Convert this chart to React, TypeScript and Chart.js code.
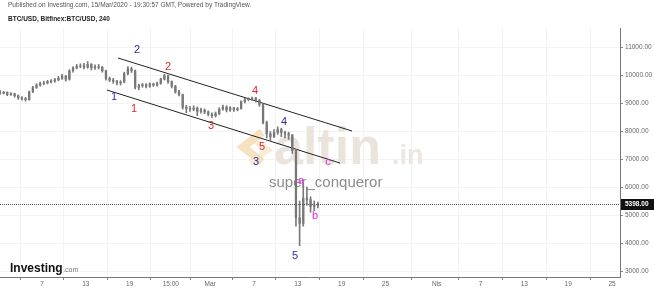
import React, { useEffect, useRef } from "react";
import { Chart, registerables } from "chart.js";
Chart.register(...registerables);

// 12h candles, Feb 1 2020 00:00 UTC -> Mar 15 2020 12:00 (x = days since Feb 1)
const firstOpen = 9400;
const closes = [
  9350, 9380, 9300, 9330, 9260, 9190, 9160, 9120, 9400, 9560,
  9640, 9700, 9720, 9760, 9790, 9830, 9880, 9950, 9850, 10150,
  10250, 10310, 10330, 10280, 10380, 10260, 10300, 10270, 10150, 9880,
  9820, 9780, 9720, 9750, 10050, 10220, 10150, 9560, 9620, 9650,
  9600, 9680, 9640, 9700, 9850, 9980, 9760, 9600, 9400, 9300,
  8850, 8800, 8780, 8820, 8700, 8750, 8680, 8600,
  8550, 8620, 8780, 8850, 8750, 8820, 8760, 8800, 9050, 9120,
  9150, 9180, 9100, 8950, 8300, 7900, 7800, 7950, 8050, 7950,
  7900, 7850, 7300, 4900, 4700, 5600, 5550, 5300, 5350, 5398,
];
const highs = [
  9450, 9420, 9400, 9370, 9350, 9290, 9230, 9200, 9430, 9600,
  9690, 9750, 9780, 9810, 9840, 9880, 9950, 10020, 9990, 10190,
  10300, 10380, 10400, 10420, 10480, 10410, 10360, 10380, 10310, 10180,
  9930, 9880, 9810, 9800, 10100, 10300, 10280, 10180, 9680, 9700,
  9690, 9720, 9710, 9750, 9890, 10030, 10000, 9790, 9630, 9450,
  9320, 8920, 8880, 8900, 8860, 8820, 8790, 8720,
  8650, 8680, 8830, 8930, 8900, 8870, 8850, 8840, 9080, 9170,
  9190, 9210, 9200, 9130, 8970, 8350, 7980, 8050, 8150, 8100,
  8000, 7960, 7880, 7350, 5500, 6100, 6000, 5650, 5500, 5460,
];
const lows = [
  9310, 9320, 9260, 9270, 9210, 9130, 9100, 9070, 9100, 9370,
  9520, 9600, 9650, 9680, 9720, 9740, 9790, 9840, 9780, 9820,
  10100, 10220, 10260, 10220, 10240, 10180, 10200, 10210, 10100, 9820,
  9760, 9700, 9650, 9640, 9720, 10000, 10090, 9500, 9480, 9560,
  9540, 9560, 9590, 9600, 9670, 9820, 9700, 9540, 9350, 9250,
  8780, 8650, 8700, 8720, 8550, 8640, 8620, 8540,
  8480, 8500, 8580, 8740, 8680, 8700, 8700, 8720, 8780, 9000,
  9080, 9100, 9030, 8880, 8250, 7750, 7650, 7760, 7880, 7800,
  7750, 7700, 7200, 4600, 3900, 4600, 5350, 5100, 5150, 5250,
];
const barLengthDays = 0.5;

const xTickDays = [6, 12, 18, 23.625, 29, 35, 41, 47, 53, 60, 66, 72, 78, 84];
const xTickLabels = ["7", "13", "19", "15:00", "Mar", "7", "13", "19", "25", "Nis", "7", "13", "19", "25"];
const yTicks = [3000, 4000, 5000, 6000, 7000, 8000, 9000, 10000, 11000];
const lastPrice = 5398;

const upperChannel = [
  { x: 16.4, y: 10607 },
  { x: 48.42, y: 8000 },
];
const lowerChannel = [
  { x: 14.89, y: 9464 },
  { x: 46.78, y: 6857 },
];

const BLUE = "#2b2ba8";
const RED = "#d8282c";
const MAG = "#e02ce0";
const waveLabels = [
  { t: "2", x: 19.0, y: 10893, c: BLUE },
  { t: "1", x: 15.85, y: 9214, c: BLUE },
  { t: "1", x: 18.59, y: 8786, c: RED },
  { t: "2", x: 23.24, y: 10286, c: RED },
  { t: "3", x: 29.13, y: 8179, c: RED },
  { t: "4", x: 35.15, y: 9429, c: RED },
  { t: "5", x: 36.1, y: 7429, c: RED },
  { t: "3", x: 35.28, y: 6893, c: BLUE },
  { t: "4", x: 39.11, y: 8321, c: BLUE },
  { t: "c", x: 45.14, y: 6893, c: MAG },
  { t: "a", x: 41.44, y: 6214, c: MAG },
  { t: "b", x: 43.36, y: 4964, c: MAG },
  { t: "5", x: 40.62, y: 3536, c: BLUE },
];

const FONT = '"Liberation Sans", Arial, sans-serif';

const overlay = {
  id: "overlay",
  beforeDatasetsDraw(chart: any) {
    const ctx = chart.ctx;
    ctx.save();
    // logo chevrons
    ctx.lineJoin = "miter";
    ctx.lineCap = "butt";
    ctx.strokeStyle = "rgba(240,206,150,0.6)";
    ctx.lineWidth = 8;
    ctx.beginPath();
    ctx.moveTo(262, 132);
    ctx.lineTo(243, 147);
    ctx.lineTo(262, 162);
    ctx.stroke();
    ctx.strokeStyle = "rgba(244,224,190,0.6)";
    ctx.lineWidth = 6;
    ctx.beginPath();
    ctx.moveTo(250, 137);
    ctx.lineTo(268, 150);
    ctx.lineTo(250, 163);
    ctx.stroke();
    // altin.in
    ctx.textBaseline = "alphabetic";
    ctx.textAlign = "left";
    ctx.fillStyle = "rgba(234,227,218,0.95)";
    ctx.font = `bold 52px ${FONT}`;
    ctx.fillText("altin", 274, 164);
    ctx.fillStyle = "rgba(234,229,223,0.95)";
    ctx.font = `bold 27px ${FONT}`;
    ctx.fillText(".in", 392, 164);
    ctx.fillStyle = "#8c8c8c";
    ctx.font = `15px ${FONT}`;
    ctx.fillText("super_conqueror", 269, 187);
    ctx.restore();
  },
  afterDraw(chart: any) {
    const ctx = chart.ctx;
    const xs = chart.scales.x;
    const ys = chart.scales.y;
    const area = chart.chartArea;
    ctx.save();
    // last price dotted line
    const py = Math.round(ys.getPixelForValue(lastPrice)) + 0.5;
    ctx.strokeStyle = "#555";
    ctx.lineWidth = 1;
    ctx.setLineDash([1, 1]);
    ctx.beginPath();
    ctx.moveTo(area.left, py);
    ctx.lineTo(area.right, py);
    ctx.stroke();
    ctx.setLineDash([]);
    ctx.fillStyle = "#111";
    ctx.fillRect(area.right + 1, py - 5.5, 33, 11);
    ctx.fillStyle = "#fff";
    ctx.font = `bold 6.5px ${FONT}`;
    ctx.textBaseline = "middle";
    ctx.textAlign = "left";
    ctx.fillText(lastPrice.toFixed(2), area.right + 5, py);

    // wave labels
    ctx.font = `11px ${FONT}`;
    ctx.textAlign = "center";
    ctx.textBaseline = "middle";
    for (const l of waveLabels) {
      ctx.fillStyle = l.c;
      ctx.fillText(l.t, xs.getPixelForValue(l.x), ys.getPixelForValue(l.y));
    }

    // header
    ctx.textAlign = "left";
    ctx.fillStyle = "#555";
    ctx.font = `6.5px ${FONT}`;
    ctx.fillText("Published on Investing.com, 15/Mar/2020 - 19:30:57 GMT, Powered by TradingView.", 8, 5);
    ctx.fillStyle = "#222";
    ctx.font = `bold 6.5px ${FONT}`;
    ctx.fillText("BTC/USD, Bitfinex:BTC/USD, 240", 8, 19);

    // Investing.com logo
    ctx.textBaseline = "alphabetic";
    ctx.fillStyle = "#111";
    ctx.font = `bold 12px ${FONT}`;
    ctx.fillText("Investing", 10, 272);
    const w = ctx.measureText("Investing").width;
    ctx.fillStyle = "#777";
    ctx.font = `7px ${FONT}`;
    ctx.fillText(".com", 10 + w + 0.5, 272);
    ctx.restore();
  },
};

export default function App() {
  const ref = useRef<HTMLCanvasElement | null>(null);
  useEffect(() => {
    document.body.style.margin = "0";
    const opens = closes.map((c, i) => (i === 0 ? firstOpen : closes[i - 1]));
    const xAt = (i: number) => i * barLengthDays + barLengthDays / 2;
    const wicks = closes.map((c, i) => ({ x: xAt(i), y: [lows[i], highs[i]] }));
    const bodies = closes.map((c, i) => ({
      x: xAt(i),
      y: [Math.min(opens[i], c), Math.max(opens[i], c) + (opens[i] === c ? 20 : 0)],
    }));
    const chart = new Chart(ref.current as HTMLCanvasElement, {
      type: "bar",
      data: {
        datasets: [
          {
            type: "bar",
            data: wicks as any,
            backgroundColor: "#7a7a7a",
            barThickness: 1,
            grouped: false,
            borderWidth: 0,
          } as any,
          {
            type: "bar",
            data: bodies as any,
            backgroundColor: "#6a6a6a",
            barThickness: 1.6,
            grouped: false,
            borderWidth: 0,
          } as any,
          {
            type: "line",
            data: upperChannel,
            borderColor: "#222",
            borderWidth: 1,
            pointRadius: 0,
          } as any,
          {
            type: "line",
            data: lowerChannel,
            borderColor: "#222",
            borderWidth: 1,
            pointRadius: 0,
          } as any,
        ],
      },
      options: {
        animation: false,
        responsive: true,
        maintainAspectRatio: false,
        devicePixelRatio: 1,
        layout: { padding: { top: 28, left: 0, right: 0, bottom: 0 } },
        plugins: { legend: { display: false }, tooltip: { enabled: false } },
        events: [],
        scales: {
          x: {
            type: "linear",
            min: 0.253,
            max: 85.09,
            offset: false,
            grid: { color: "#f3f3f3", tickLength: 3, tickColor: "#888" },
            border: { color: "#777" },
            ticks: {
              autoSkip: false,
              maxRotation: 0,
              padding: 0,
              color: "#666",
              font: { size: 6.5, family: FONT },
              callback: (v: any) => {
                const i = xTickDays.indexOf(Number(v));
                return i >= 0 ? xTickLabels[i] : "";
              },
            },
            afterBuildTicks: (s: any) => {
              s.ticks = xTickDays.map((v) => ({ value: v }));
            },
            afterFit: (s: any) => {
              s.height = 14;
            },
          } as any,
          y: {
            type: "linear",
            position: "right",
            min: 2786,
            max: 11679,
            grid: { color: "#f3f3f3", tickLength: 3, tickColor: "#888" },
            border: { color: "#777" },
            ticks: {
              padding: 2,
              color: "#666",
              font: { size: 6.5, family: FONT },
              callback: (v: any) => Number(v).toFixed(2),
            },
            afterBuildTicks: (s: any) => {
              s.ticks = yTicks.map((v) => ({ value: v }));
            },
            afterFit: (s: any) => {
              s.width = 34;
            },
          } as any,
        },
      },
      plugins: [overlay],
    });
    return () => chart.destroy();
  }, []);
  return (
    <div style={{ width: 654, height: 291, position: "relative" }}>
      <canvas ref={ref} />
    </div>
  );
}
